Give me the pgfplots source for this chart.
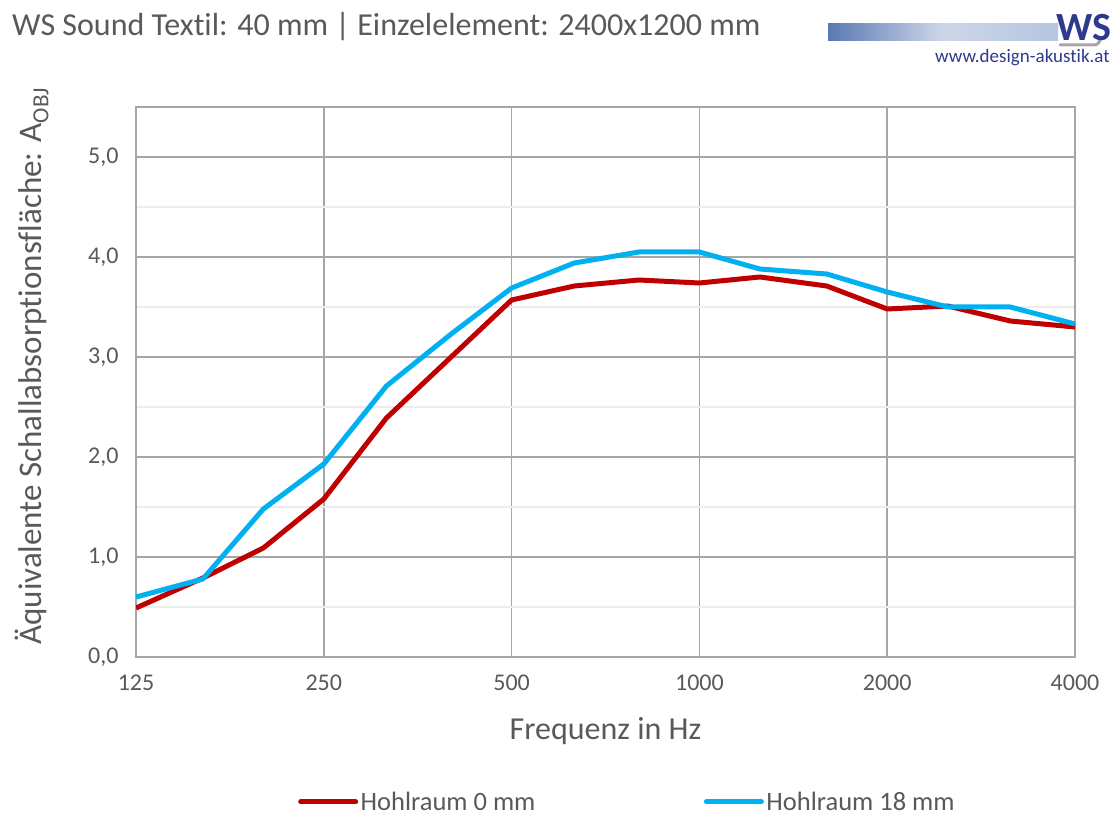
\documentclass[border=0pt]{standalone}
\usepackage{fontspec}
\setmainfont{Carlito}[Ligatures=NoCommon]
\usepackage{pgfplots}
\usepackage{pgfplotstable}
\pgfplotsset{compat=1.18}
\definecolor{txt}{HTML}{595959}
\definecolor{redl}{HTML}{C00000}
\definecolor{bluel}{HTML}{00B0F0}
\definecolor{gridc}{HTML}{A6A6A6}
\definecolor{minorc}{HTML}{EDEDED}
\definecolor{navy}{HTML}{2E3A8C}
\definecolor{strip1}{HTML}{5A78B4}
\definecolor{strip2}{HTML}{B4C6E0}

\pgfplotstableread{
f   a
125 0.49
160 0.79
200 1.09
250 1.58
315 2.39
400 3.00
500 3.57
630 3.71
800 3.77
1000 3.74
1250 3.80
1600 3.71
2000 3.48
2500 3.51
3150 3.36
4000 3.30
}\hohlnull

\pgfplotstableread{
f   a
125 0.60
160 0.78
200 1.48
250 1.93
315 2.71
400 3.23
500 3.69
630 3.94
800 4.05
1000 4.05
1250 3.88
1600 3.83
2000 3.65
2500 3.50
3150 3.50
4000 3.33
}\hohlacht

\begin{document}
\begin{tikzpicture}
\useasboundingbox (-136pt,-182pt) rectangle (984pt,657pt);
\begin{axis}[
  at={(0pt,0pt)}, anchor=south west,
  scale only axis, width=939pt, height=550pt,
  xmode=log, xmin=125, xmax=4000,
  xtick={125,250,500,1000,2000,4000},
  xticklabels={125,250,500,1000,2000,4000},
  minor xtick={},
  ymin=0, ymax=5.5,
  ytick={0,1,2,3,4,5},
  minor ytick={0.5,1.5,2.5,3.5,4.5},
  xmajorgrids, ymajorgrids, yminorgrids,
  major grid style={gridc, line width=1.5pt},
  minor grid style={minorc, line width=1.5pt},
  axis line style={gridc, line width=1.5pt},
  tick style={draw=none},
  /pgf/number format/assume math mode=true,
  ticklabel style={font=\fontsize{24}{28}\selectfont, text=txt},
  yticklabel style={/pgf/number format/fixed, /pgf/number format/fixed zerofill,
    /pgf/number format/precision=1, /pgf/number format/use comma, xshift=-14pt},
  xticklabel style={yshift=-14pt},
  legend columns=2,
  legend style={at={(rel axis cs:0.1725,-0.2636)}, anchor=west, draw=none, fill=none,
    inner sep=0pt, font=\fontsize{26.5}{30}\selectfont, text=txt,
    nodes={inner sep=2.5pt},
    /tikz/every even column/.append style={column sep=166pt}},
  legend image code/.code={\draw[#1, line width=5pt, line cap=round] (0pt,0pt) -- (55pt,0pt);},
]
\addplot[redl, line width=5pt, line join=round] table[x=f, y=a] {\hohlnull};
\addlegendentry{Hohlraum 0 mm}
\addplot[bluel, line width=5pt, line join=round] table[x=f, y=a] {\hohlacht};
\addlegendentry{Hohlraum 18 mm}
\end{axis}
% title
\node[anchor=base west, text=txt, font=\fontsize{32}{38}\selectfont, inner sep=0pt] at (-124pt,621pt)
  {WS Sound Textil: 40 mm | Einzelelement: 2400x1200 mm};
% axis labels
\node[anchor=base, text=txt, font=\fontsize{32}{38}\selectfont, inner sep=0pt] at (469.5pt,-82pt) {Frequenz in Hz};
\node[rotate=90, text=txt, font=\fontsize{33}{38}\selectfont, inner sep=0pt] at (-104pt,291pt)
  {Äquivalente Schallabsorptionsfläche: A\textsubscript{OBJ}};
% logo
\shade[left color=strip1, right color=strip2, middle color=white!70!strip1] (692pt,616pt) rectangle (922pt,633pt);
\draw[gray!70, line width=3pt, line cap=round] (924pt,612pt) -- (958pt,612pt) arc[start angle=-90, end angle=0, radius=6pt];
\node[anchor=south west, text=navy, font=\fontsize{40}{44}\selectfont\bfseries, inner sep=0pt] at (920pt,616pt) {WS};
\node[anchor=base east, text=navy, font=\fontsize{19}{22}\selectfont, inner sep=0pt] at (974pt,594pt) {www.design-akustik.at};
\end{tikzpicture}
\end{document}
